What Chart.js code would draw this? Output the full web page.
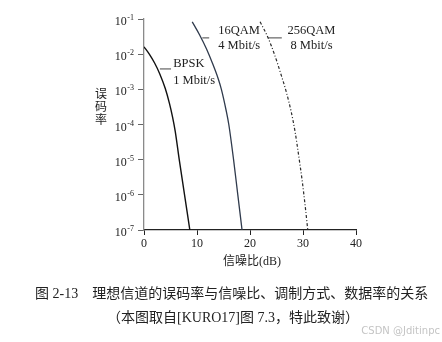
<!DOCTYPE html>
<html>
<head>
  <meta charset="utf-8">
  <title>误码率与信噪比、调制方式、数据率的关系</title>
  <script src="https://cdn.jsdelivr.net/npm/chart.js"></script>
  <style>
    body {
      margin: 0;
      padding: 0;
      width: 442px;
      height: 342px;
      background: #fff;
      position: relative;
      overflow: hidden;
    }
    #chart {
      position: absolute;
      left: 0;
      top: 0;
    }
    .caption {
      position: absolute;
      font-family: "Liberation Serif", "Noto Sans CJK SC", serif;
      font-size: 14px;
      color: #222;
      white-space: nowrap;
    }
    #cap1 { left: 35px; top: 282px; }
    #cap2 { left: 107px; top: 306px; }
    #mark {
      position: absolute;
      right: 2px;
      top: 325px;
      font-family: "DejaVu Sans", Arial, sans-serif;
      font-size: 10px;
      color: #c4c4c4;
    }
  </style>
  <script>
    // SNR (dB) and bit error rate
    const snrBpsk = [0, 1, 2, 3, 4, 4.8, 5.4, 5.9, 6.65, 7.65, 8.65];
    const berBpsk = [1.62e-2, 1e-2, 5.6e-3, 2.7e-3, 1.07e-3, 4e-4, 1.6e-4, 6.3e-5, 1e-5, 1e-6, 1e-7];

    const snr16 = [9.1, 10.5, 11.8, 12.9, 14.0, 14.6, 15.5, 16.0, 16.9, 17.7, 18.5];
    const ber16 = [8.3e-2, 3.5e-2, 1.4e-2, 5.6e-3, 2e-3, 1e-3, 2.5e-4, 1e-4, 1e-5, 1e-6, 1e-7];

    const snr256 = [21.9, 23.3, 24.6, 25.8, 26.9, 27.8, 28.5, 29.2, 29.85, 30.4, 30.9];
    const ber256 = [8.3e-2, 3.2e-2, 1e-2, 2.8e-3, 7.9e-4, 2.2e-4, 6.3e-5, 1.26e-5, 2.5e-6, 5e-7, 1e-7];

    const xTicks = [0, 10, 20, 30, 40];
    const yTicks = [1e-7, 1e-6, 1e-5, 1e-4, 1e-3, 1e-2, 1e-1];

    const seriesNames = ['BPSK', '16QAM', '256QAM'];
    const seriesRates = ['1 Mbit/s', '4 Mbit/s', '8 Mbit/s'];

    // label anchors (data coords) and leader lines
    const notes = [
      { x: 5.5, y1: 5.6e-3, y2: 1.8e-3, align: 'left', lead: [3.0, 5.1, 3.8e-3] },
      { x: 14.0, y1: 4.9e-2, y2: 1.8e-2, align: 'left', lead: [11.0, 12.3, 2.9e-2] },
      { x: 31.6, y1: 4.9e-2, y2: 1.8e-2, align: 'center', lead: [23.4, 26.0, 2.9e-2] }
    ];

    function pts(xs, ys) {
      return xs.map((v, i) => ({ x: v, y: ys[i] }));
    }

    const chartText = {
      id: 'chartText',
      afterDraw(chart) {
        const { ctx, scales: { x, y } } = chart;
        ctx.save();
        ctx.fillStyle = '#222';

        // y tick labels 10^-n
        const right = y.left - 4;
        yTicks.forEach(v => {
          const py = y.getPixelForValue(v);
          const exp = '-' + Math.round(-Math.log10(v));
          ctx.textAlign = 'right';
          ctx.textBaseline = 'alphabetic';
          ctx.font = '8px "Liberation Serif"';
          const ew = ctx.measureText(exp).width;
          ctx.fillText(exp, right, py + 1);
          ctx.font = '12px "Liberation Serif"';
          ctx.fillText('10', right - ew - 0.5, py + 6);
        });

        // x tick labels
        ctx.font = '12px "Liberation Serif"';
        ctx.textAlign = 'center';
        xTicks.forEach(v => {
          ctx.fillText(String(v), x.getPixelForValue(v), x.top + 17);
        });

        // axis titles
        ctx.font = '12px "Liberation Serif", "Noto Sans CJK SC"';
        ctx.fillText('信噪比(dB)', (x.left + x.right) / 2 + 2, x.top + 35);
        ctx.font = '12px "Noto Sans CJK SC"';
        ['误', '码', '率'].forEach((c, i) => {
          ctx.fillText(c, 101, 98 + i * 13);
        });

        // curve labels
        ctx.font = '12.5px "Liberation Serif"';
        notes.forEach((n, i) => {
          ctx.textAlign = n.align;
          const px = x.getPixelForValue(n.x);
          ctx.fillText(seriesNames[i], px, y.getPixelForValue(n.y1) + 4);
          ctx.fillText(seriesRates[i], px, y.getPixelForValue(n.y2) + 4);
          const ly = y.getPixelForValue(n.lead[2]);
          ctx.strokeStyle = '#444';
          ctx.lineWidth = 1;
          ctx.beginPath();
          ctx.moveTo(x.getPixelForValue(n.lead[0]), ly);
          ctx.lineTo(x.getPixelForValue(n.lead[1]), ly);
          ctx.stroke();
        });
        ctx.restore();
      }
    };

    window.onload = () => {
      const ctx = document.getElementById('chart').getContext('2d');
      new Chart(ctx, {
        type: 'line',
        data: {
          datasets: [
            {
              label: 'BPSK',
              data: pts(snrBpsk, berBpsk),
              borderColor: '#111',
              borderWidth: 1.4
            },
            {
              label: '16QAM',
              data: pts(snr16, ber16),
              borderColor: '#2f3a4c',
              borderWidth: 1.3
            },
            {
              label: '256QAM',
              data: pts(snr256, ber256),
              borderColor: '#2a2a2a',
              borderWidth: 1.2,
              borderDash: [3, 2, 1, 2]
            }
          ]
        },
        options: {
          responsive: false,
          animation: false,
          devicePixelRatio: 1,
          layout: { padding: { left: 138, right: 86, top: 19, bottom: 107 } },
          elements: {
            point: { radius: 0 },
            line: { cubicInterpolationMode: 'monotone', fill: false }
          },
          scales: {
            x: {
              type: 'linear',
              min: 0,
              max: 40,
              afterBuildTicks: s => { s.ticks = xTicks.map(v => ({ value: v })); },
              ticks: { display: false },
              grid: { drawOnChartArea: false, tickLength: 5, color: '#222' },
              border: { color: '#222', width: 1.3 }
            },
            y: {
              type: 'logarithmic',
              min: 1e-7,
              max: 1e-1,
              afterBuildTicks: s => { s.ticks = yTicks.map(v => ({ value: v })); },
              ticks: { display: false },
              grid: { drawOnChartArea: false, tickLength: 6, color: '#666' },
              border: { color: '#8a8a8a', width: 1.3 }
            }
          },
          plugins: {
            legend: { display: false },
            tooltip: { enabled: false }
          }
        },
        plugins: [chartText]
      });
    };
  </script>
</head>
<body>
  <canvas id="chart" width="442" height="342"></canvas>
  <div class="caption" id="cap1">图 2-13　理想信道的误码率与信噪比、调制方式、数据率的关系</div>
  <div class="caption" id="cap2">（本图取自[KURO17]图 7.3，特此致谢）</div>
  <div id="mark">CSDN @Jditinpc</div>
</body>
</html>
